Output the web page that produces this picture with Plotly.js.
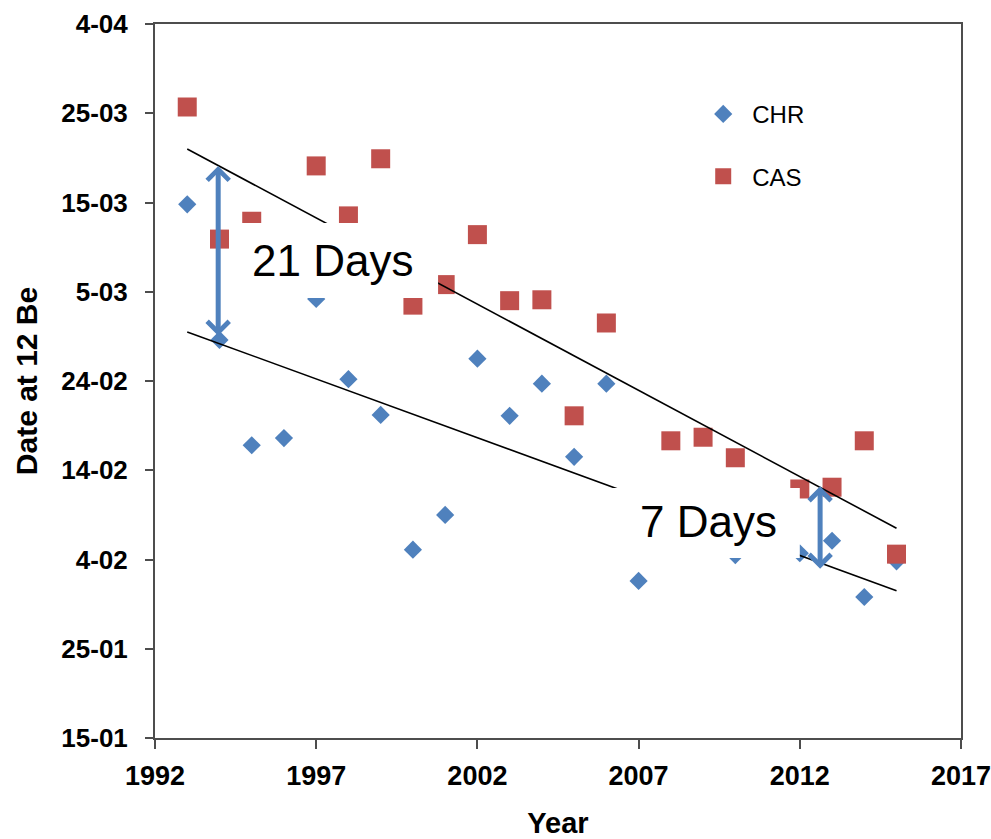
<!DOCTYPE html>
<html><head><meta charset="utf-8">
<script src="https://cdn.plot.ly/plotly-3.0.1.min.js"></script>
<style>html,body{margin:0;padding:0;background:#fff}</style>
</head><body><div id="chart" style="width:991px;height:839px"></div>
<script>
// Day number in a leap year (1 Jan = 1): 15-01 = 15, 4-02 = 35, 24-02 = 55, 5-03 = 65, 4-04 = 95
const chrYears = [1993,1994,1995,1996,1997,1998,1999,2000,2001,2002,2003,2004,2005,2006,2007,2010,2012,2013,2014,2015];
const chrDay   = [74.8,59.6,47.8,48.6,64.2,55.2,51.2,36.1,40.0,57.5,51.1,54.7,46.5,54.7,32.6,35.5,35.7,37.1,30.8,34.8];
const casYears = [1993,1994,1995,1997,1998,1999,2000,2001,2002,2003,2004,2005,2006,2008,2009,2010,2012,2013,2014,2015];
const casDay   = [85.7,70.9,72.9,79.1,73.5,79.9,63.5,65.8,71.4,64.0,64.1,51.1,61.5,48.3,48.7,46.4,42.9,43.1,48.3,35.6];
const trendYears = [1993, 2015];
const casTrend = [81.0, 38.5];
const chrTrend = [60.5, 31.5];
const yTickVals = [15,25,35,45,55,65,75,85,95];
const yTickText = ['15-01','25-01','4-02','14-02','24-02','5-03','15-03','25-03','4-04'];
const xTickVals = [1992,1997,2002,2007,2012,2017];
const gapLabels = ['21 Days','7 Days'];
const gapYears = [1993.96, 2012.63];
const gapTop = [79.1, 43.2];
const gapBottom = [59.9, 33.8];

const FONT = 'Liberation Sans, Arial, sans-serif';
const AX = '#4d4d4d';

const traces = [
  {x: chrYears, y: chrDay, type: 'scatter', mode: 'markers', name: 'CHR',
   legendgroup: 'a', marker: {symbol: 'diamond', size: 14, color: '#4F81BD', line: {width: 0}}},
  {x: casYears, y: casDay, type: 'scatter', mode: 'markers', name: 'CAS',
   legendgroup: 'b', marker: {symbol: 'square', size: 19, color: '#C0504D', line: {width: 0}}},
  {x: trendYears, y: casTrend, type: 'scatter', mode: 'lines', showlegend: false,
   line: {color: '#000', width: 1.6}, hoverinfo: 'skip'},
  {x: trendYears, y: chrTrend, type: 'scatter', mode: 'lines', showlegend: false,
   line: {color: '#000', width: 1.6}, hoverinfo: 'skip'}
];

const labelPos = [{x: 1997.49, y: 68.45}, {x: 2009.17, y: 39.3}];
const boxes = [
  {x0: 1994.54, x1: 2000.78, y0: 64.3, y1: 72.7},
  {x0: 2005.52, x1: 2012.0, y0: 35.17, y1: 43.0}
];

const shapes = boxes.map(b => ({type: 'rect', xref: 'x', yref: 'y', x0: b.x0, x1: b.x1, y0: b.y0, y1: b.y1,
  fillcolor: '#ffffff', line: {width: 0}, layer: 'above'}));

const annotations = [];
gapLabels.forEach((t, i) => {
  annotations.push({x: labelPos[i].x, y: labelPos[i].y, xref: 'x', yref: 'y', text: t, showarrow: false,
    font: {family: FONT, size: 44, color: '#000'}, xanchor: 'center', yanchor: 'middle'});
});
gapYears.forEach((gx, i) => {
  annotations.push({x: gx, y: gapTop[i], ax: gx, ay: gapBottom[i], xref: 'x', yref: 'y', axref: 'x', ayref: 'y',
    text: '', showarrow: true, arrowside: 'end+start', arrowhead: 4, startarrowhead: 4,
    arrowsize: 0.85, startarrowsize: 0.85, arrowwidth: 5, arrowcolor: '#4F81BD', standoff: 0, startstandoff: 0});
});

const layout = {
  width: 991, height: 839,
  margin: {l: 155, r: 30, t: 24, b: 101},
  paper_bgcolor: '#fff', plot_bgcolor: '#fff',
  showlegend: true,
  legend: {x: 0.669, y: 0.905, xanchor: 'left', yanchor: 'top', bgcolor: 'rgba(0,0,0,0)',
    font: {family: FONT, size: 24, color: '#000'}, traceorder: 'grouped', tracegroupgap: 28,
    itemwidth: 48},
  xaxis: {range: [1992, 2017], tickmode: 'array', tickvals: xTickVals, ticktext: xTickVals.map(String),
    ticks: 'outside', ticklen: 9, tickwidth: 2, tickcolor: AX, ticklabeloverflow: 'allow',
    ticklabelstandoff: 4,
    showline: true, linecolor: AX, linewidth: 2, mirror: true, showgrid: false, zeroline: false,
    tickfont: {family: FONT, size: 27, weight: 'bold', color: '#000'},
    title: {text: 'Year', font: {family: FONT, size: 29, weight: 'bold', color: '#000'}, standoff: 22}},
  yaxis: {range: [15, 95], tickmode: 'array', tickvals: yTickVals, ticktext: yTickText,
    ticks: 'outside', ticklen: 8, tickwidth: 2, tickcolor: AX,
    showline: true, linecolor: AX, linewidth: 2, mirror: true, showgrid: false, zeroline: false,
    ticklabelstandoff: 12,
    tickfont: {family: FONT, size: 26, weight: 'bold', color: '#000'},
    title: {text: 'Date at 12 Be', font: {family: FONT, size: 30, weight: 'bold', color: '#000'}, standoff: 15}},
  shapes: shapes,
  annotations: annotations
};

Plotly.newPlot('chart', traces, layout, {displayModeBar: false, staticPlot: true});
</script>
</body></html>
